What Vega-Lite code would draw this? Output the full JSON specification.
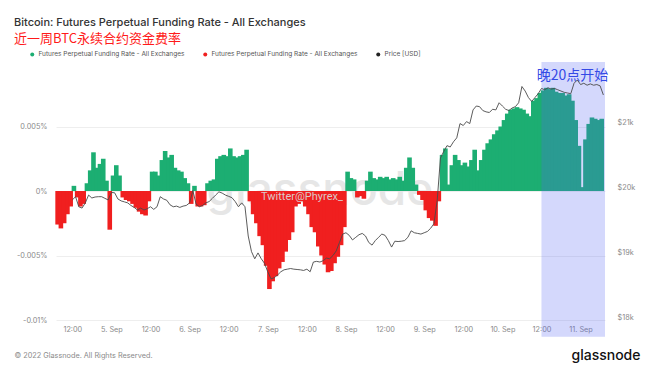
{
"$schema":"https://vega.github.io/schema/vega-lite/v6.json",
"width":549,"height":258,
"autosize":{"type":"none"},
"padding":{"left":56,"top":62,"right":55,"bottom":52},
"background":"white",
"config":{"font":"Inter","view":{"stroke":null},"axis":{"domain":false,"ticks":false,"labelFont":"Inter","labelFontSize":7.3,"labelColor":"#8a8a8a"}},
"title":{"text":"Bitcoin: Futures Perpetual Funding Rate - All Exchanges","subtitle":"近一周BTC永续合约资金费率","anchor":"start","frame":"group","dx":-42,"font":"Inter","fontSize":11,"fontWeight":500,"color":"#333333","subtitleFont":"Noto Sans CJK SC","subtitleFontSize":13,"subtitleColor":"#ff1a1a","subtitlePadding":5,"offset":5},
"datasets":{"d":[
{"t":"2022-09-04T07:00","f":-0.0026},{"t":"2022-09-04T08:00","f":-0.0029},{"t":"2022-09-04T09:00","f":-0.0025},{"t":"2022-09-04T10:00","f":-0.0018},{"t":"2022-09-04T11:00","f":-0.0012},
{"t":"2022-09-04T12:00","f":0.0004,"p":19805},{"t":"2022-09-04T13:00","f":-0.0005,"p":19855},{"t":"2022-09-04T14:00","f":-0.0012,"p":19700},{"t":"2022-09-04T15:00","f":-0.001,"p":19680},{"t":"2022-09-04T16:00","f":0.0006,"p":19760},{"t":"2022-09-04T17:00","f":0.0016,"p":19880},{"t":"2022-09-04T18:00","f":0.003,"p":19835},{"t":"2022-09-04T19:00","f":0.0018,"p":19850},{"t":"2022-09-04T20:00","f":0.0021,"p":19855},{"t":"2022-09-04T21:00","f":0.0025,"p":19855},{"t":"2022-09-04T22:00","f":0.0008,"p":19830},{"t":"2022-09-04T23:00","f":-0.003,"p":19805},
{"t":"2022-09-05T00:00","f":0.0012,"p":19920},{"t":"2022-09-05T01:00","f":0.002,"p":19915},{"t":"2022-09-05T02:00","f":0.0012,"p":19820},{"t":"2022-09-05T03:00","f":-0.0005,"p":19790},{"t":"2022-09-05T04:00","f":-0.0007,"p":19775},{"t":"2022-09-05T05:00","f":-0.0008,"p":19760},{"t":"2022-09-05T06:00","f":-0.001,"p":19720},{"t":"2022-09-05T07:00","f":-0.0013,"p":19690},{"t":"2022-09-05T08:00","f":-0.0016,"p":19650},{"t":"2022-09-05T09:00","f":-0.0018,"p":19680},{"t":"2022-09-05T10:00","f":-0.0019,"p":19650},{"t":"2022-09-05T11:00","f":-0.0008,"p":19670},{"t":"2022-09-05T12:00","f":0.0015,"p":19700},{"t":"2022-09-05T13:00","f":0.0015,"p":19660},{"t":"2022-09-05T14:00","f":0.0012,"p":19700},{"t":"2022-09-05T15:00","f":0.0024,"p":19855},{"t":"2022-09-05T16:00","f":0.0031,"p":19820},{"t":"2022-09-05T17:00","f":0.0026,"p":19800},{"t":"2022-09-05T18:00","f":0.0028,"p":19730},{"t":"2022-09-05T19:00","f":0.0018,"p":19700},{"t":"2022-09-05T20:00","f":0.0016,"p":19710},{"t":"2022-09-05T21:00","f":0.0015,"p":19690},{"t":"2022-09-05T22:00","f":0.001,"p":19710},{"t":"2022-09-05T23:00","f":0.0006,"p":19720},
{"t":"2022-09-06T00:00","f":-0.001,"p":19760},{"t":"2022-09-06T01:00","f":0.0004,"p":19950},{"t":"2022-09-06T02:00","f":-0.0012,"p":19740},{"t":"2022-09-06T03:00","f":-0.0012,"p":19700},{"t":"2022-09-06T04:00","f":-0.0011,"p":19720},{"t":"2022-09-06T05:00","f":0.0006,"p":19760},{"t":"2022-09-06T06:00","f":0.0008,"p":19780},{"t":"2022-09-06T07:00","f":0.0009,"p":19830},{"t":"2022-09-06T08:00","f":0.0025,"p":19880},{"t":"2022-09-06T09:00","f":0.0027,"p":19930},{"t":"2022-09-06T10:00","f":0.0028,"p":19910},{"t":"2022-09-06T11:00","f":0.0027,"p":19880},{"t":"2022-09-06T12:00","f":0.0033,"p":19860},{"t":"2022-09-06T13:00","f":0.0027,"p":19840},{"t":"2022-09-06T14:00","f":0.0026,"p":19780},{"t":"2022-09-06T15:00","f":0.0027,"p":19700},{"t":"2022-09-06T16:00","f":0.0028,"p":19760},{"t":"2022-09-06T17:00","f":0.0032,"p":19700},{"t":"2022-09-06T18:00","f":-0.0008,"p":19250},{"t":"2022-09-06T19:00","f":-0.0018,"p":19010},{"t":"2022-09-06T20:00","f":-0.0025,"p":18900},{"t":"2022-09-06T21:00","f":-0.0035,"p":18990},{"t":"2022-09-06T22:00","f":-0.0042,"p":18900},{"t":"2022-09-06T23:00","f":-0.0058,"p":18830},
{"t":"2022-09-07T00:00","f":-0.0076,"p":18700},{"t":"2022-09-07T01:00","f":-0.007,"p":18590},{"t":"2022-09-07T02:00","f":-0.0066,"p":18610},{"t":"2022-09-07T03:00","f":-0.006,"p":18650},{"t":"2022-09-07T04:00","f":-0.0055,"p":18700},{"t":"2022-09-07T05:00","f":-0.0047,"p":18730},{"t":"2022-09-07T06:00","f":-0.0038,"p":18740},{"t":"2022-09-07T07:00","f":-0.0032,"p":18750},{"t":"2022-09-07T08:00","f":-0.0012,"p":18740},{"t":"2022-09-07T09:00","f":-0.001,"p":18735},{"t":"2022-09-07T10:00","f":-0.0008,"p":18730},{"t":"2022-09-07T11:00","f":-0.0012,"p":18720},{"t":"2022-09-07T12:00","f":-0.0018,"p":18740},{"t":"2022-09-07T13:00","f":-0.0028,"p":18700},{"t":"2022-09-07T14:00","f":-0.0032,"p":18850},{"t":"2022-09-07T15:00","f":-0.0043,"p":18860},{"t":"2022-09-07T16:00","f":-0.005,"p":18850},{"t":"2022-09-07T17:00","f":-0.0057,"p":18870},{"t":"2022-09-07T18:00","f":-0.0063,"p":18910},{"t":"2022-09-07T19:00","f":-0.0062,"p":18900},{"t":"2022-09-07T20:00","f":-0.0056,"p":18950},{"t":"2022-09-07T21:00","f":-0.0051,"p":19020},{"t":"2022-09-07T22:00","f":-0.0042,"p":19150},{"t":"2022-09-07T23:00","f":-0.0028,"p":19280},
{"t":"2022-09-08T00:00","f":0.0015,"p":19300},{"t":"2022-09-08T01:00","f":0.001,"p":19260},{"t":"2022-09-08T02:00","f":0.0009,"p":19190},{"t":"2022-09-08T03:00","f":-0.0005,"p":19230},{"t":"2022-09-08T04:00","f":-0.0004,"p":19270},{"t":"2022-09-08T05:00","f":-0.0006,"p":19290},{"t":"2022-09-08T06:00","f":0.0008,"p":19250},{"t":"2022-09-08T07:00","f":0.0015,"p":19150},{"t":"2022-09-08T08:00","f":0.001,"p":19110},{"t":"2022-09-08T09:00","f":0.0009,"p":19180},{"t":"2022-09-08T10:00","f":0.0011,"p":19230},{"t":"2022-09-08T11:00","f":0.001,"p":19280},{"t":"2022-09-08T12:00","f":0.0011,"p":19260},{"t":"2022-09-08T13:00","f":0.0009,"p":19180},{"t":"2022-09-08T14:00","f":0.001,"p":19080},{"t":"2022-09-08T15:00","f":0.0009,"p":19170},{"t":"2022-09-08T16:00","f":0.0011,"p":19165},{"t":"2022-09-08T17:00","f":0.0008,"p":19170},{"t":"2022-09-08T18:00","f":0.0018,"p":19180},{"t":"2022-09-08T19:00","f":0.0026,"p":19230},{"t":"2022-09-08T20:00","f":0.0018,"p":19330},{"t":"2022-09-08T21:00","f":0.0005,"p":19300},{"t":"2022-09-08T22:00","f":-0.0003,"p":19290},{"t":"2022-09-08T23:00","f":-0.0007,"p":19280},
{"t":"2022-09-09T00:00","f":-0.0015,"p":19300},{"t":"2022-09-09T01:00","f":-0.0021,"p":19320},{"t":"2022-09-09T02:00","f":-0.0023,"p":19370},{"t":"2022-09-09T03:00","f":-0.0027,"p":19440},{"t":"2022-09-09T04:00","f":-0.0008,"p":19800},{"t":"2022-09-09T05:00","f":0.0028,"p":20450},{"t":"2022-09-09T06:00","f":0.0033,"p":20550},{"t":"2022-09-09T07:00","f":0.0005,"p":20640},{"t":"2022-09-09T08:00","f":0.002,"p":20620},{"t":"2022-09-09T09:00","f":0.0028,"p":20700},{"t":"2022-09-09T10:00","f":0.0024,"p":20760},{"t":"2022-09-09T11:00","f":0.002,"p":20980},{"t":"2022-09-09T12:00","f":0.0022,"p":20950},{"t":"2022-09-09T13:00","f":0.0019,"p":21010},{"t":"2022-09-09T14:00","f":0.0024,"p":20980},{"t":"2022-09-09T15:00","f":0.0032,"p":21190},{"t":"2022-09-09T16:00","f":0.0016,"p":21250},{"t":"2022-09-09T17:00","f":0.0024,"p":21240},{"t":"2022-09-09T18:00","f":0.0032,"p":21180},{"t":"2022-09-09T19:00","f":0.0037,"p":21160},{"t":"2022-09-09T20:00","f":0.004,"p":21150},{"t":"2022-09-09T21:00","f":0.0044,"p":21200},{"t":"2022-09-09T22:00","f":0.0047,"p":21190},{"t":"2022-09-09T23:00","f":0.005,"p":21300},
{"t":"2022-09-10T00:00","f":0.0055,"p":21250},{"t":"2022-09-10T01:00","f":0.006,"p":21200},{"t":"2022-09-10T02:00","f":0.0063,"p":21180},{"t":"2022-09-10T03:00","f":0.0064,"p":21220},{"t":"2022-09-10T04:00","f":0.0065,"p":21240},{"t":"2022-09-10T05:00","f":0.0064,"p":21300},{"t":"2022-09-10T06:00","f":0.0063,"p":21550},{"t":"2022-09-10T07:00","f":0.006,"p":21480},{"t":"2022-09-10T08:00","f":0.0058,"p":21380},{"t":"2022-09-10T09:00","f":0.007,"p":21320},{"t":"2022-09-10T10:00","f":0.0072,"p":21380},{"t":"2022-09-10T11:00","f":0.0076,"p":21440},{"t":"2022-09-10T12:00","f":0.0078,"p":21520},{"t":"2022-09-10T13:00","f":0.008,"p":21500},{"t":"2022-09-10T14:00","f":0.0079,"p":21530},{"t":"2022-09-10T15:00","f":0.008,"p":21510},{"t":"2022-09-10T16:00","f":0.0077,"p":21520},{"t":"2022-09-10T17:00","f":0.0076,"p":21500},{"t":"2022-09-10T18:00","f":0.0076,"p":21480},{"t":"2022-09-10T19:00","f":0.0074,"p":21460},{"t":"2022-09-10T20:00","f":0.0075,"p":21450},{"t":"2022-09-10T21:00","f":0.007,"p":21440},{"t":"2022-09-10T22:00","f":0.0055,"p":21600},{"t":"2022-09-10T23:00","f":0.0035,"p":21650},
{"t":"2022-09-11T00:00","f":0.0003,"p":21580},{"t":"2022-09-11T01:00","f":0.004,"p":21600},{"t":"2022-09-11T02:00","f":0.0052,"p":21570},{"t":"2022-09-11T03:00","f":0.0057,"p":21590},{"t":"2022-09-11T04:00","f":0.0056,"p":21570},{"t":"2022-09-11T05:00","f":0.0055,"p":21580},{"t":"2022-09-11T06:00","f":0.0056,"p":21560},{"t":"2022-09-11T07:00","p":21420}
]},
"layer":[
{"layer":[
 {"data":{"values":[{"t":"2022-09-07T16:00","v":-0.0011,"label":"glassnode"}]},
  "mark":{"type":"text","fontSize":46,"color":"#e6e6e6","font":"Inter","fontWeight":500,"baseline":"alphabetic","align":"center"},
  "encoding":{"x":{"field":"t","type":"temporal"},"y":{"field":"v","type":"quantitative"},"text":{"field":"label","type":"nominal"}}},
 {"data":{"name":"d"},
  "transform":[{"filter":"isValid(datum.f)"},{"calculate":"datum.f < 0 ? 'Futures Perpetual Funding Rate - All Exchanges ' : 'Futures Perpetual Funding Rate - All Exchanges'","as":"s"}],
  "mark":{"type":"bar","size":4.6},
  "encoding":{
   "x":{"field":"t","type":"temporal","timeUnit":"yearmonthdatehours",
    "scale":{"domain":[{"year":2022,"month":9,"date":4,"hours":7},{"year":2022,"month":9,"date":11,"hours":7,"minutes":30}]},
    "axis":{"values":[{"year":2022,"month":9,"date":4,"hours":12},{"year":2022,"month":9,"date":5},{"year":2022,"month":9,"date":5,"hours":12},{"year":2022,"month":9,"date":6},{"year":2022,"month":9,"date":6,"hours":12},{"year":2022,"month":9,"date":7},{"year":2022,"month":9,"date":7,"hours":12},{"year":2022,"month":9,"date":8},{"year":2022,"month":9,"date":8,"hours":12},{"year":2022,"month":9,"date":9},{"year":2022,"month":9,"date":9,"hours":12},{"year":2022,"month":9,"date":10},{"year":2022,"month":9,"date":10,"hours":12},{"year":2022,"month":9,"date":11}],
     "labelExpr":"hours(datum.value)==12 ? '12:00' : date(datum.value) + '. Sep'","grid":false,"labelPadding":5,"labelFlush":false,
     "title":"© 2022 Glassnode. All Rights Reserved.","titleFont":"Inter","titleFontSize":7.3,"titleFontWeight":"normal","titleColor":"#8a8a8a","titleAlign":"left","titleBaseline":"middle","titleX":-42,"titleY":35}},
   "y":{"field":"f","type":"quantitative","scale":{"domain":[-0.01,0.01],"nice":false,"zero":false},
    "axis":{"values":[-0.01,-0.0075,-0.005,-0.0025,0,0.0025,0.005,0.0075],"labelExpr":"indexof([-0.01,-0.005,0,0.005], datum.value) >= 0 ? datum.value + '%' : ''","grid":true,"gridColor":"#eeeeee","labelPadding":9,"title":null}},
   "color":{"field":"s","type":"nominal",
    "scale":{"domain":["Futures Perpetual Funding Rate - All Exchanges","Futures Perpetual Funding Rate - All Exchanges ","Price [USD]"],"range":["#1cae72","#f01f1f","#222222"]},
    "legend":{"orient":"none","legendX":-27,"legendY":-11,"direction":"horizontal","columns":3,"title":null,"symbolType":"circle","symbolSize":16,"labelFontSize":6.5,"labelFont":"Inter","labelColor":"#555555","columnPadding":17,"labelOffset":3,"labelLimit":200}}}},
 {"data":{"values":[{"a":"2022-09-10T12:00","b":"2022-09-11T07:30","y1":0.01,"y2":-0.0113}]},
  "mark":{"type":"rect","color":"#5262f2","opacity":0.25,"clip":false},
  "encoding":{"x":{"field":"a","type":"temporal"},"x2":{"field":"b"},"y":{"field":"y1","type":"quantitative"},"y2":{"field":"y2"}}},
 {"data":{"values":[{"t":"2022-09-07T10:30","v":-0.0005,"label":"Twitter@Phyrex_"}]},
  "mark":{"type":"text","fontSize":11,"color":"#dadada","font":"Roboto","baseline":"middle","align":"center","opacity":0.9},
  "encoding":{"x":{"field":"t","type":"temporal"},"y":{"field":"v","type":"quantitative"},"text":{"field":"label","type":"nominal"}}},
 {"data":{"values":[{"t":"2022-09-10T21:30","v":0.0089,"label":"晚20点开始"}]},
  "mark":{"type":"text","fontSize":14,"color":"#3449e6","font":"Noto Sans CJK SC","baseline":"middle","align":"center"},
  "encoding":{"x":{"field":"t","type":"temporal"},"y":{"field":"v","type":"quantitative"},"text":{"field":"label","type":"nominal"}}}
]},
{"data":{"name":"d"},"transform":[{"filter":"isValid(datum.p)"}],
 "mark":{"type":"line","color":"#4a4a4a","strokeWidth":0.9},
 "encoding":{"x":{"field":"t","type":"temporal"},
  "y":{"field":"p","type":"quantitative","scale":{"domain":[17958,21927],"nice":false,"zero":false},
   "axis":{"orient":"right","values":[18000,19000,20000,21000],"labelExpr":"'$' + (datum.value/1000) + 'k'","grid":false,"labelPadding":12,
    "title":"glassnode","titleAngle":0,"titleX":35,"titleY":293,"titleAlign":"right","titleBaseline":"middle","titleFont":"Inter","titleFontSize":14,"titleFontWeight":500,"titleColor":"#111111"}}}}
],
"resolve":{"scale":{"y":"independent"}}
}
